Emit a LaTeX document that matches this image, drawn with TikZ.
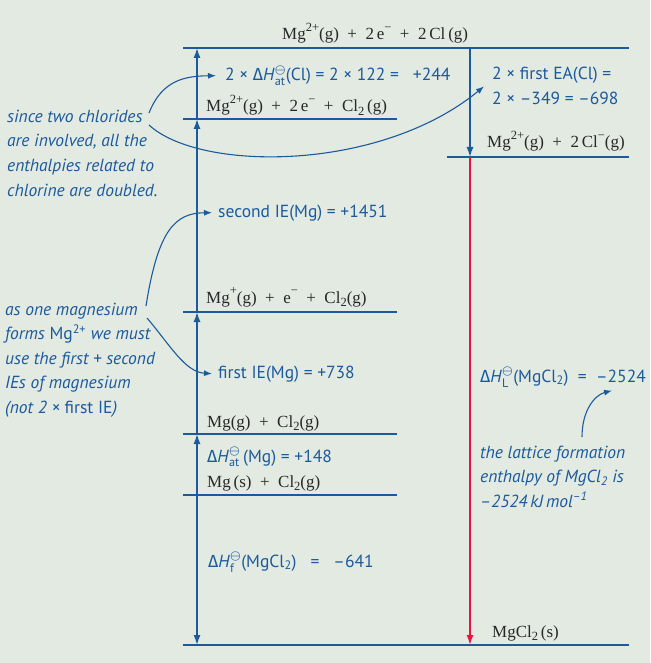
\documentclass[tikz,border=0pt]{standalone}
\usepackage{amsmath}
\usepackage{fontspec}
\setmainfont{PT Sans}
\newfontfamily\grkfont{Fira Sans}
\newfontfamily\chemfont{Liberation Serif}
\usetikzlibrary{arrows.meta, positioning}
\definecolor{CycleBg}{RGB}{226,234,226}
\definecolor{CycleBlue}{RGB}{28,90,156}
\definecolor{CycleRed}{RGB}{232,20,70}
\definecolor{CycleInk}{RGB}{40,40,40}
\newcommand{\dH}[1]{{\grkfont Δ}\textit{H}\(^{\boldsymbol{\ominus}}_{\text{#1}}\)}
\newcommand{\chup}[1]{\raisebox{0.52em}{\fontsize{12.5}{12.5}\selectfont #1}}
\newcommand{\chdn}[1]{\raisebox{-0.22em}{\fontsize{12.5}{12.5}\selectfont #1}}

\begin{document}
\begin{tikzpicture}[x=1pt, y=-1pt,
  level/.style={draw=CycleBlue, line width=1.3pt},
  species/.style={font=\chemfont\fontsize{17}{20}\selectfont, text=CycleInk, inner sep=0pt, anchor=base west},
  val/.style={font=\fontsize{17.5}{25}\selectfont, text=CycleBlue, inner sep=0pt, anchor=base west},
  note/.style={font=\itshape\fontsize{17.5}{24.5}\selectfont, text=CycleBlue, inner sep=0pt, align=left, anchor=base west},
  cyc/.style={-{Latex[length=10pt,width=7pt]}, draw=CycleBlue, line width=1.4pt},
  latt/.style={cyc, draw=CycleRed},
  callout/.style={-{Latex[length=8pt,width=6pt]}, draw=CycleBlue, line width=1.1pt},
]
\useasboundingbox (0,0) rectangle (650,663);
\fill[CycleBg] (0,0) rectangle (650,663);
%% columns and levels
\coordinate (colL) at (197,0);
\coordinate (colR) at (470,0);
\path (0,48) coordinate (Ltop) (0,119) coordinate (Lcl) (0,157) coordinate (Lion)
      (0,312) coordinate (Lmgp) (0,434) coordinate (Lmgg) (0,495) coordinate (Lmgs)
      (0,645) coordinate (Lsalt);
\draw[level] (183,48) -- (629,48);
\draw[level] (183,119) -- (397,119);
\draw[level] (447,157) -- (629,157);
\draw[level] (183,312) -- (397,312);
\draw[level] (183,434) -- (397,434);
\draw[level] (183,495) -- (397,495);
\draw[level] (183,645) -- (629,645);
%% species
\node[species] (s-top) at (282,40) {Mg\chup{2+}(g) ~+~ 2\,e\chup{−} ~+~ 2\,Cl\,(g)};
\node[species] (s-cl) at (206,112) {Mg\chup{2+}(g) ~+~ 2\,e\chup{−} ~+~ Cl\chdn{2}\,(g)};
\node[species] (s-ion) at (487,148) {Mg\chup{2+}(g) ~+~ 2\,Cl\chup{−}(g)};
\node[species] (s-mgp) at (206,303) {Mg\chup{+}(g) ~+~ e\chup{−} ~+~ Cl\chdn{2}(g)};
\node[species] (s-mgg) at (207,427) {Mg(g) ~+~ Cl\chdn{2}(g)};
\node[species] (s-mgs) at (207,487) {Mg\,(s) ~+~ Cl\chdn{2}(g)};
\node[species] (s-salt) at (492,637) {MgCl\chdn{2}\,(s)};
%% enthalpy values
\node[val] (atcl) at (225,81) {2 × \dH{at}(Cl) = 2 × 122 = \ \ +244};
\node[val, align=left] (ea) at (492,105) {2 × first EA(Cl) =\\2 × –349 = –698};
\node[val] (ie2) at (218,217) {second IE(Mg) = +1451};
\node[val] (ie1) at (218,378) {first IE(Mg) = +738};
\node[val] (atmg) at (207,462) {\dH{at}\,(Mg) = +148};
\node[val] (dhf) at (208,567) {\dH{f}(MgCl\textsubscript{2}) \ \ = \ \ –641};
\node[val] (dhl) at (480,382) {\dH{L}(MgCl\textsubscript{2}) \ = \ –2524};
%% notes
\node[note] (n-cl) at (7,196) {since two chlorides\\are involved, all the\\enthalpies related to\\chlorine are doubled.};
\node[note] (n-mg) at (5,413) {as one magnesium\\forms {\upshape Mg\textsuperscript{2+}} we must\\use the first + second\\IEs of magnesium\\(not 2 × {\upshape first IE})};
\node[note] (n-lat) at (480,507) {the lattice formation\\enthalpy of MgCl\textsubscript{2} is\\–2524\,kJ\,mol\textsuperscript{–1}};
%% cycle arrows
\draw[cyc] (colL |- Lmgs) -- (colL |- Lmgg);
\draw[cyc] (colL |- Lmgg) -- (colL |- Lmgp);
\draw[cyc] (colL |- Lmgp) -- (colL |- Lcl);
\draw[cyc] (colL |- Lcl) -- (colL |- Ltop);
\draw[cyc] (colL |- Lmgs) -- (colL |- Lsalt);
\draw[cyc] (colR |- Ltop) -- (colR |- Lion);
\draw[latt] (colR |- Lion) -- (colR |- Lsalt);
%% callouts
\coordinate (n-cl-a) at (149,113);
\coordinate (n-cl-b) at (149,125);
\coordinate (n-mg-a) at (146,306);
\coordinate (n-mg-b) at (147,318);
\coordinate (n-lat-a) at (582,437);
\draw[callout] (n-cl-a) .. controls (162,80) and (185,76) .. ([xshift=-9pt]atcl.west);
\draw[callout] (n-cl-b) .. controls (200,172) and (380,172) .. ([xshift=-8pt]ea.west);
\draw[callout] (n-mg-a) .. controls (158,230) and (175,213) .. ([xshift=-6pt]ie2.west);
\draw[callout] (n-mg-b) .. controls (170,345) and (185,372) .. ([xshift=-6pt]ie1.west);
\draw[callout] (n-lat-a) .. controls (582,410) and (595,395) .. ([xshift=132pt,yshift=-3pt]dhl.south west);
\end{tikzpicture}
\end{document}
